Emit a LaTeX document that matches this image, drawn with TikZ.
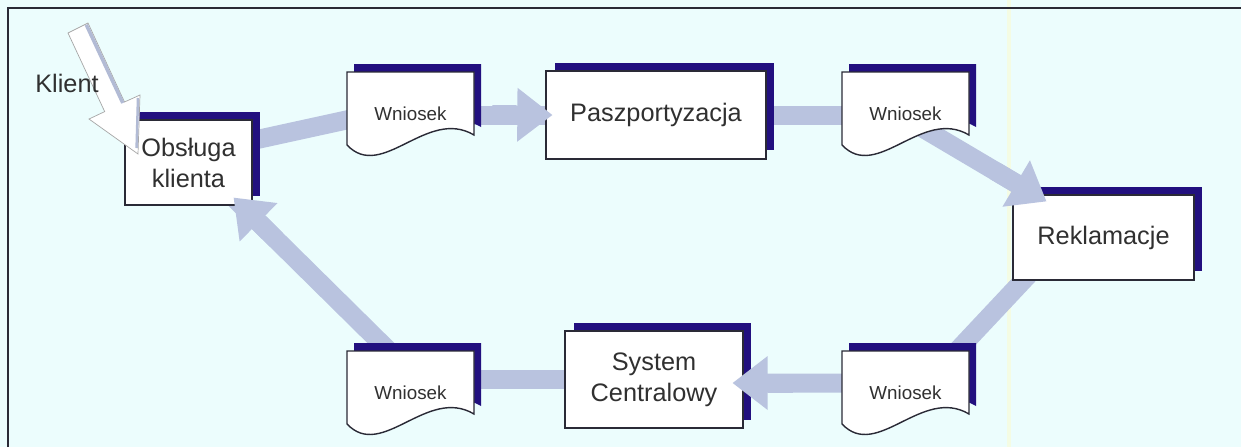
\documentclass[tikz,border=0pt]{standalone}
\usepackage{fontspec}
\setmainfont{Liberation Sans}
\usetikzlibrary{calc,shadows,arrows.meta}

\definecolor{jasny}{HTML}{ECFDFD}
\definecolor{smuga}{HTML}{F4FCE4}
\definecolor{strumien}{HTML}{B9C3DF}
\definecolor{cien}{HTML}{22107F}
\definecolor{ramka}{HTML}{2A2A36}
\definecolor{napis}{HTML}{303030}
\definecolor{klientcien}{HTML}{B2BBD5}

\pgfdeclarelayer{tlo}
\pgfdeclarelayer{pod}
\pgfsetlayers{tlo,pod,main}

\tikzset{
  okno/.style={draw=ramka, line width=0.8pt, fill=white, text=napis, align=center,
    inner sep=0pt, font=\fontsize{14.4}{17.6}\selectfont,
    drop shadow={shadow xshift=0.17cm, shadow yshift=0.17cm, fill=cien, opacity=1}},
  pismo/.style={inner sep=0pt, minimum width=2.54cm, minimum height=1.68cm,
    text=napis, font=\fontsize{10.7}{13}\selectfont},
  przeplyw/.style={strumien, line width=0.38cm},
  grot/.style={strumien, line width=0.38cm,
    -{Triangle[width=1.08cm, length=0.7cm, line width=0pt]}},
}

\begin{document}
\begin{tikzpicture}[x=0.02cm, y=-0.02cm]
    \useasboundingbox (0,0) rectangle (1241,447);
    \begin{pgfonlayer}{tlo}
      \fill[jasny] (0,0) rectangle (1241,447);
      \draw[smuga, line width=0.07cm] (1009,0) -- (1009,447);
      \draw[ramka, line width=0.04cm] (8,447) -- (8,8) -- (1241,8);
    \end{pgfonlayer}

    \node[okno, minimum width=2.54cm, minimum height=1.7cm] (obs) at (188.5,162.5) {Obsługa\\klienta};
    \node[okno, minimum width=4.4cm, minimum height=1.76cm] (pasz) at (656,115) {Paszportyzacja};
    \node[okno, minimum width=3.62cm, minimum height=1.7cm] (rek) at (1103.5,237.5) {Reklamacje};
    \node[okno, minimum width=3.56cm, minimum height=1.94cm] (sys) at (654,379.5) {System\\Centralowy};

    \foreach \n/\x/\y in {w1/347/72, w2/842/72, w3/842/351, w4/347/351} {
      \begin{scope}[shift={(\x,\y)}]
        \fill[cien] (7,-8) -- (134,-8) -- (134,55) .. controls (87,27) and (42,102) .. (7,65) -- cycle;
        \filldraw[draw=ramka, line width=0.8pt, fill=white] (0,0) -- (127,0) -- (127,63)
          .. controls (80,35) and (35,110) .. (0,73) -- cycle;
        \node[pismo] (\n) at (63.5,42) {Wniosek};
      \end{scope}
    }

    \coordinate (g2) at ($(pasz.west)+(7,0)$);
    \coordinate (s4) at ($(w2.center)+(0,4)$);
    \coordinate (g4) at ($(rek.north west)+(34,7)$);
    \coordinate (s6) at ($(w3.center)+(0,-10)$);
    \coordinate (g6) at ($(sys.east)+(-11,3.5)$);
    \coordinate (s8) at ($(w4.center)+(21,0)$);
    \coordinate (g8) at ($(obs.south east)+(-19,-8)$);

    \begin{pgfonlayer}{pod}
      \draw[przeplyw] ($(obs.center)+(0,-8)$) -- ($(w1.center)+(0,-8)$);
      \draw[przeplyw] (w1.center |- g2) -- (g2);
      \draw[przeplyw] (pasz.center) -- (pasz.center -| w2.center);
      \draw[przeplyw] (s4) -- (g4);
      \draw[przeplyw] ($(rek.center)+(-40,0)$) -- ($(w3.center)+(12,0)$);
      \draw[przeplyw] (s6) -- (g6);
      \draw[przeplyw] (sys.center) -- (sys.center -| w4.center);
      \draw[przeplyw] (s8) -- (g8);
    \end{pgfonlayer}

    \draw[grot] ($(g2)!1.2cm!(w1.center)$) -- (g2);
    \draw[grot] ($(g4)!1.2cm!(s4)$) -- (g4);
    \draw[grot] ($(g6)!1.2cm!(s6)$) -- (g6);
    \draw[grot] ($(g8)!1.2cm!(s8)$) -- (g8);

    \filldraw[fill=white, draw=gray!70, line width=0.4pt] (68,33) -- (88,23) -- (124.5,102) -- (140,95)
      -- (138,154) -- (89,119) -- (104.7,111.6) -- cycle;
    \draw[klientcien, line width=0.07cm] (86.3,24.8) -- (122.8,103);
    \draw[klientcien, line width=0.05cm] (138,98) -- (136.6,148);
    \node[font=\fontsize{14.4}{17}\selectfont, text=napis] (klient) at (67,83) {Klient};
  \end{tikzpicture}
\end{document}
